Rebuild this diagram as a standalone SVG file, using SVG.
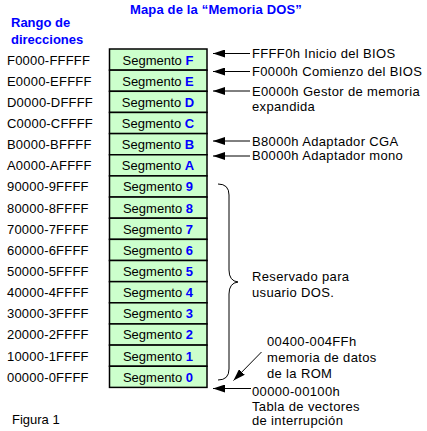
<svg xmlns="http://www.w3.org/2000/svg" width="427" height="431" viewBox="0 0 427 431">
<style>
text{font-family:"Liberation Sans",Arial,sans-serif;font-size:13px;fill:#000}
.t{font-weight:bold;fill:#0000ff}
.seg rect{fill:#ccffcc;stroke:#000;stroke-width:1.5}
.seg text{text-anchor:middle}
.seg tspan{font-weight:bold;fill:#0000ff}
.lab{letter-spacing:0.2px}
.ann{letter-spacing:0.35px}
.c{stroke:#000;stroke-width:1;fill:none}
</style>
<defs>
<marker id="ah" markerUnits="userSpaceOnUse" markerWidth="12" markerHeight="8" refX="12" refY="4" orient="auto">
<path d="M0,0 L12,4 L0,8 z" fill="#000"/>
</marker>
</defs>
<rect width="427" height="431" fill="#fff"/>
<g id="title"><text class="t" x="130" y="14" style="letter-spacing:0.15px">Mapa de la “Memoria DOS”</text></g>
<g id="header"><text class="t" x="11" y="27">Rango de</text><text class="t" x="11" y="43.5">direcciones</text></g>
<g id="segments">
<g class="seg" id="segF"><rect x="109.5" y="49" width="97.5" height="21.15"/><text x="158" y="64.5">Segmento <tspan>F</tspan></text></g>
<g class="seg" id="segE"><rect x="109.5" y="70.15" width="97.5" height="21.15"/><text x="158" y="85.65">Segmento <tspan>E</tspan></text></g>
<g class="seg" id="segD"><rect x="109.5" y="91.3" width="97.5" height="21.15"/><text x="158" y="106.8">Segmento <tspan>D</tspan></text></g>
<g class="seg" id="segC"><rect x="109.5" y="112.45" width="97.5" height="21.15"/><text x="158" y="127.95">Segmento <tspan>C</tspan></text></g>
<g class="seg" id="segB"><rect x="109.5" y="133.6" width="97.5" height="21.15"/><text x="158" y="149.1">Segmento <tspan>B</tspan></text></g>
<g class="seg" id="segA"><rect x="109.5" y="154.75" width="97.5" height="21.15"/><text x="158" y="170.25">Segmento <tspan>A</tspan></text></g>
<g class="seg" id="seg9"><rect x="109.5" y="175.9" width="97.5" height="21.15"/><text x="158" y="191.4">Segmento <tspan>9</tspan></text></g>
<g class="seg" id="seg8"><rect x="109.5" y="197.05" width="97.5" height="21.15"/><text x="158" y="212.55">Segmento <tspan>8</tspan></text></g>
<g class="seg" id="seg7"><rect x="109.5" y="218.2" width="97.5" height="21.15"/><text x="158" y="233.7">Segmento <tspan>7</tspan></text></g>
<g class="seg" id="seg6"><rect x="109.5" y="239.35" width="97.5" height="21.15"/><text x="158" y="254.85">Segmento <tspan>6</tspan></text></g>
<g class="seg" id="seg5"><rect x="109.5" y="260.5" width="97.5" height="21.15"/><text x="158" y="276">Segmento <tspan>5</tspan></text></g>
<g class="seg" id="seg4"><rect x="109.5" y="281.65" width="97.5" height="21.15"/><text x="158" y="297.15">Segmento <tspan>4</tspan></text></g>
<g class="seg" id="seg3"><rect x="109.5" y="302.8" width="97.5" height="21.15"/><text x="158" y="318.3">Segmento <tspan>3</tspan></text></g>
<g class="seg" id="seg2"><rect x="109.5" y="323.95" width="97.5" height="21.15"/><text x="158" y="339.45">Segmento <tspan>2</tspan></text></g>
<g class="seg" id="seg1"><rect x="109.5" y="345.1" width="97.5" height="21.15"/><text x="158" y="360.6">Segmento <tspan>1</tspan></text></g>
<g class="seg" id="seg0"><rect x="109.5" y="366.25" width="97.5" height="21.15"/><text x="158" y="381.75">Segmento <tspan>0</tspan></text></g>
</g>
<g id="ranges" class="lab">
<text class="lab" x="7" y="64.5">F0000-FFFFF</text>
<text class="lab" x="7" y="85.65">E0000-EFFFF</text>
<text class="lab" x="7" y="106.8">D0000-DFFFF</text>
<text class="lab" x="7" y="127.95">C0000-CFFFF</text>
<text class="lab" x="7" y="149.1">B0000-BFFFF</text>
<text class="lab" x="7" y="170.25">A0000-AFFFF</text>
<text class="lab" x="7" y="191.4">90000-9FFFF</text>
<text class="lab" x="7" y="212.55">80000-8FFFF</text>
<text class="lab" x="7" y="233.7">70000-7FFFF</text>
<text class="lab" x="7" y="254.85">60000-6FFFF</text>
<text class="lab" x="7" y="276">50000-5FFFF</text>
<text class="lab" x="7" y="297.15">40000-4FFFF</text>
<text class="lab" x="7" y="318.3">30000-3FFFF</text>
<text class="lab" x="7" y="339.45">20000-2FFFF</text>
<text class="lab" x="7" y="360.6">10000-1FFFF</text>
<text class="lab" x="7" y="381.75">00000-0FFFF</text>
</g>
<g id="annotations">
<text class="ann" x="252" y="57.5">FFFF0h Inicio del BIOS</text>
<text class="ann" x="252" y="76">F0000h Comienzo del BIOS</text>
<text class="ann" x="252" y="95.5">E0000h Gestor de memoria</text>
<text class="ann" x="252" y="110.5">expandida</text>
<text class="ann" x="252" y="145.5">B8000h Adaptador CGA</text>
<text class="ann" x="252" y="160">B0000h Adaptador mono</text>
<text class="ann" x="252" y="281">Reservado para</text>
<text class="ann" x="252" y="297">usuario DOS.</text>
<text class="ann" x="267" y="346">00400-004FFh</text>
<text class="ann" x="267" y="362">memoria de datos</text>
<text class="ann" x="267" y="377.5">de la ROM</text>
<text class="ann" x="252" y="395.5">00000-00100h</text>
<text class="ann" x="252" y="410.5">Tabla de vectores</text>
<text class="ann" x="252" y="425">de interrupción</text>
</g>
<g id="figure-label"><text x="12" y="424">Figura 1</text></g>
<g id="connectors">
<line class="c" x1="250" y1="53.5" x2="213" y2="53.5" marker-end="url(#ah)"/>
<line class="c" x1="250" y1="71.5" x2="213" y2="71.5" marker-end="url(#ah)"/>
<line class="c" x1="250" y1="91" x2="213" y2="91" marker-end="url(#ah)"/>
<line class="c" x1="250" y1="141" x2="213" y2="141" marker-end="url(#ah)"/>
<line class="c" x1="250" y1="156" x2="213" y2="156" marker-end="url(#ah)"/>
<line class="c" x1="251" y1="388.5" x2="213" y2="388.5" marker-end="url(#ah)"/>
<line class="c" x1="261.5" y1="352" x2="233.5" y2="380.5" marker-end="url(#ah)"/>
<path class="c" d="M218,184 Q229,184 229,195 L229,270 Q229,281 238,282 Q229,283 229,294 L229,369 Q229,380 218,380"/>
</g>
</svg>
